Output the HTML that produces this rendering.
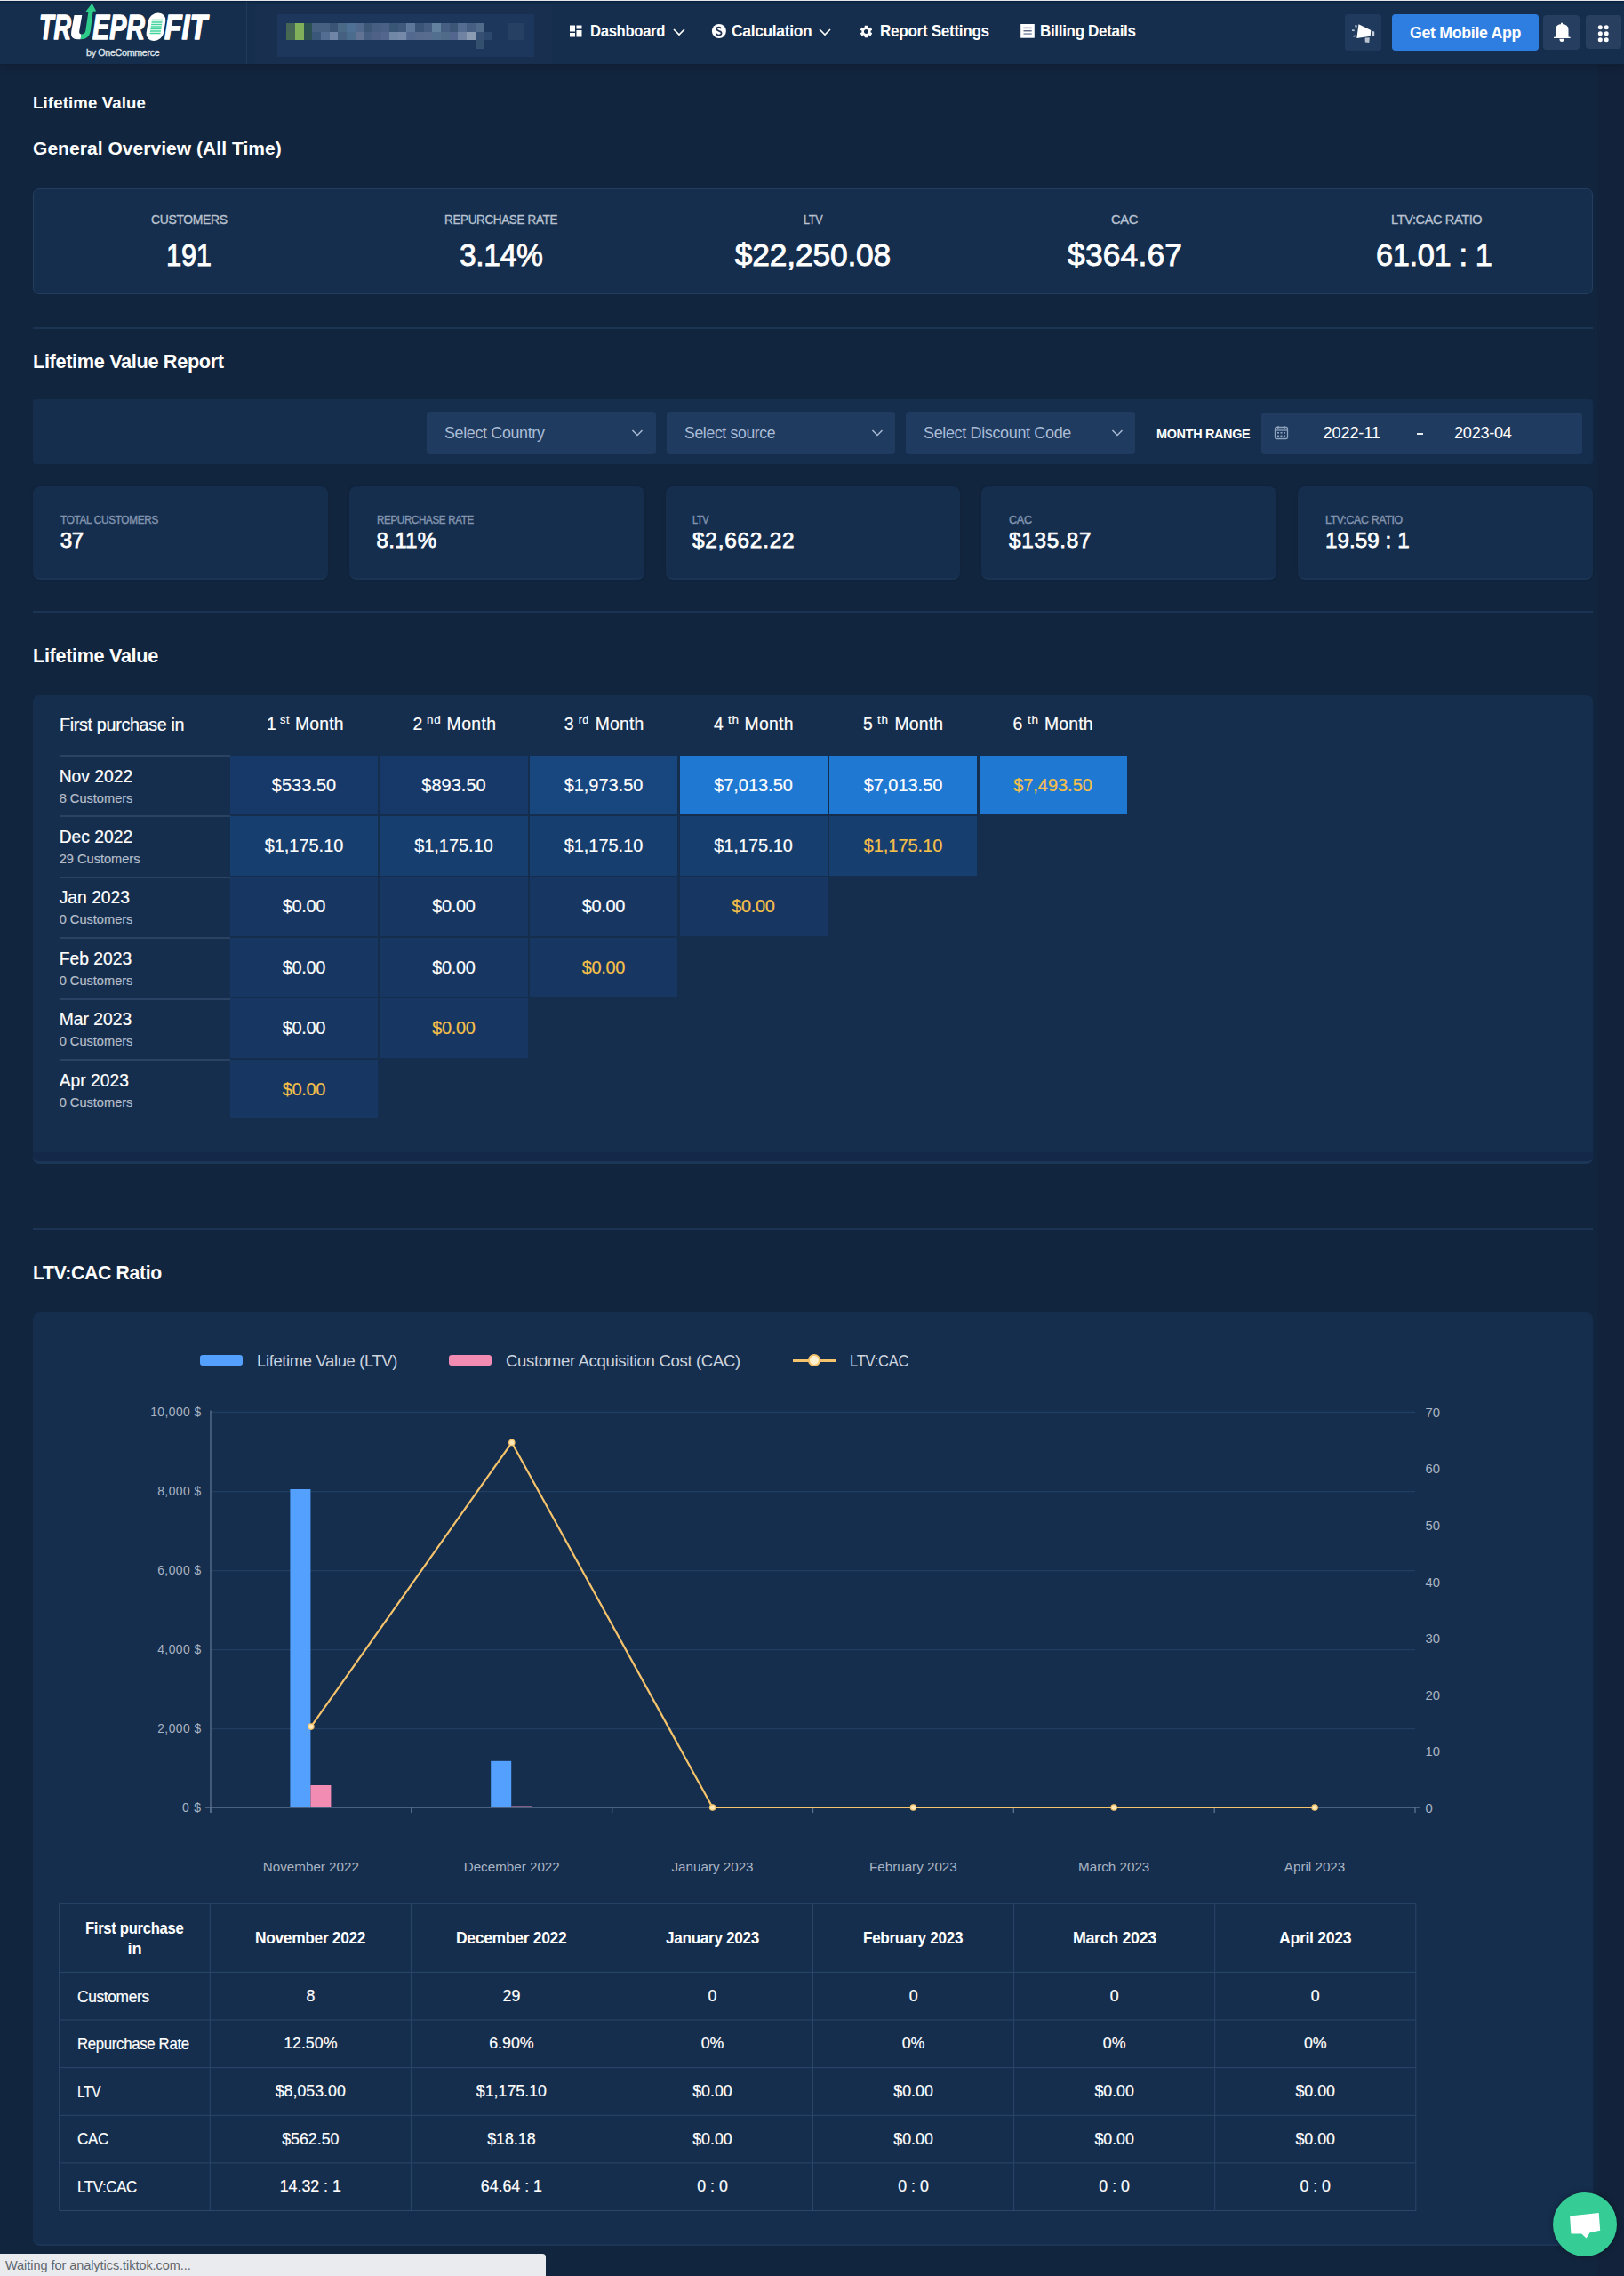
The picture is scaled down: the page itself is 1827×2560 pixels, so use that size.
<!DOCTYPE html>
<html><head><meta charset="utf-8"><style>
html,body{margin:0;padding:0;}
body{width:1827px;height:2560px;position:relative;overflow:hidden;background:#12253e;font-family:"Liberation Sans",sans-serif;color:#fff;}
.t{position:absolute;white-space:nowrap;line-height:1;transform-origin:0 0;}
.b{position:absolute;}
</style></head><body>
<div class="b" style="left:1797px;top:73px;width:30px;height:2487px;background:#12223a;"></div>
<div class="b" style="left:0;top:0;width:1827px;height:73px;background:#152e4d;box-shadow:0 2px 10px rgba(0,0,0,0.18);"></div>
<div class="b" style="left:0;top:0;width:1827px;height:1px;background:#e6e6ea;"></div>
<div class="b" style="left:0;top:1px;width:1827px;height:1px;background:#03203f;"></div>
<div class="b" style="left:0;top:2px;width:1827px;height:2px;background:#112b48;"></div>
<div class="b" style="left:0;top:72px;width:1827px;height:1px;background:#111f35;"></div>
<div class="b" style="left:277px;top:2px;width:1px;height:70px;background:#22395a;"></div>
<svg class="b" style="left:0px;top:0px" width="260" height="72" viewBox="0 0 260 72">
<g font-family="Liberation Sans" font-weight="700" font-style="italic" font-size="39" fill="#fff" stroke="#fff" stroke-width="1.4" stroke-linejoin="round">
<text x="44" y="43.6" textLength="36" lengthAdjust="spacingAndGlyphs">TR</text>
<text x="104" y="43.6" textLength="59" lengthAdjust="spacingAndGlyphs">EPR</text>
<text x="185" y="43.6" textLength="48" lengthAdjust="spacingAndGlyphs">FIT</text>
</g>
<path d="M83.5 17 L92.3 17 L89.2 35 Q88.8 38.4 91.5 38.4 L90.6 44.3 L87.5 44.3 Q78.6 44.3 80.2 35.5 Z" fill="#fff"/><path d="M99.4 13.6 L95.8 13.7 L103.6 3.7 L108.2 12.5 L104.6 12.8 L101.8 35 Q100 44.5 90.6 44.3 L91.5 38.4 Q95.6 38.4 96.3 34.5 Z" fill="#2ecc8a"/>
<rect x="166" y="14.6" width="19.5" height="31.4" rx="9.5" ry="9" transform="skewX(-9) translate(4.5 0)" fill="#fff"/>
<g transform="skewX(-9) translate(4.5 0)" stroke="#3fd59a" stroke-width="1.3">
<line x1="170" y1="22.5" x2="182" y2="22.5"/><line x1="170" y1="25" x2="182" y2="25"/><line x1="170" y1="27.5" x2="182" y2="27.5"/><line x1="170" y1="30" x2="182" y2="30"/><line x1="170" y1="32.5" x2="182" y2="32.5"/><line x1="170" y1="35" x2="182" y2="35"/><line x1="170" y1="37.5" x2="182" y2="37.5"/>
</g>
</svg>
<div class="t" style="left:96.80px;top:54.42px;font-size:11.20px;letter-spacing:-0.350px;transform:scaleX(0.9591);color:#dfe3ea;-webkit-text-stroke:0.35px #dfe3ea;">by OneCommerce</div>
<div class="b" style="left:287px;top:5px;width:334px;height:67px;background:#182f50;"></div>
<div class="b" style="left:312px;top:16px;width:289px;height:48px;background:#1c375b;"></div>
<div class="b" style="left:322.3px;top:26px;width:9.8px;height:9.7px;background:#4a6b55;opacity:.9;"></div>
<div class="b" style="left:331.9px;top:26px;width:9.8px;height:9.7px;background:#8cbf5a;opacity:.9;"></div>
<div class="b" style="left:341.6px;top:26px;width:9.8px;height:9.7px;background:#2e5350;opacity:.9;"></div>
<div class="b" style="left:351.2px;top:26px;width:9.8px;height:9.7px;background:#4a6585;opacity:.9;"></div>
<div class="b" style="left:360.9px;top:26px;width:9.8px;height:9.7px;background:#4a6585;opacity:.9;"></div>
<div class="b" style="left:370.6px;top:26px;width:9.8px;height:9.7px;background:#3d5878;opacity:.9;"></div>
<div class="b" style="left:380.2px;top:26px;width:9.8px;height:9.7px;background:#4f6f8c;opacity:.9;"></div>
<div class="b" style="left:389.9px;top:26px;width:9.8px;height:9.7px;background:#54779a;opacity:.9;"></div>
<div class="b" style="left:399.5px;top:26px;width:9.8px;height:9.7px;background:#566f92;opacity:.9;"></div>
<div class="b" style="left:409.2px;top:26px;width:9.8px;height:9.7px;background:#3f5a7a;opacity:.9;"></div>
<div class="b" style="left:418.8px;top:26px;width:9.8px;height:9.7px;background:#4a6385;opacity:.9;"></div>
<div class="b" style="left:428.5px;top:26px;width:9.8px;height:9.7px;background:#50658a;opacity:.9;"></div>
<div class="b" style="left:438.1px;top:26px;width:9.8px;height:9.7px;background:#3d5a7a;opacity:.9;"></div>
<div class="b" style="left:447.8px;top:26px;width:9.8px;height:9.7px;background:#435d80;opacity:.9;"></div>
<div class="b" style="left:457.4px;top:26px;width:9.8px;height:9.7px;background:#647ea0;opacity:.9;"></div>
<div class="b" style="left:467.1px;top:26px;width:9.8px;height:9.7px;background:#3e587a;opacity:.9;"></div>
<div class="b" style="left:476.7px;top:26px;width:9.8px;height:9.7px;background:#4a6285;opacity:.9;"></div>
<div class="b" style="left:486.4px;top:26px;width:9.8px;height:9.7px;background:#6a8aa5;opacity:.9;"></div>
<div class="b" style="left:496.0px;top:26px;width:9.8px;height:9.7px;background:#4a6385;opacity:.9;"></div>
<div class="b" style="left:505.6px;top:26px;width:9.8px;height:9.7px;background:#3f5a7a;opacity:.9;"></div>
<div class="b" style="left:515.3px;top:26px;width:9.8px;height:9.7px;background:#5a7295;opacity:.9;"></div>
<div class="b" style="left:525.0px;top:26px;width:9.8px;height:9.7px;background:#4a6385;opacity:.9;"></div>
<div class="b" style="left:534.6px;top:26px;width:9.8px;height:9.7px;background:#56708f;opacity:.9;"></div>
<div class="b" style="left:322.3px;top:35.6px;width:9.8px;height:9.6px;background:#4a7050;opacity:.9;"></div>
<div class="b" style="left:331.9px;top:35.6px;width:9.8px;height:9.6px;background:#8cbf5a;opacity:.9;"></div>
<div class="b" style="left:341.6px;top:35.6px;width:9.8px;height:9.6px;background:#2f5350;opacity:.9;"></div>
<div class="b" style="left:351.2px;top:35.6px;width:9.8px;height:9.6px;background:#3e5a7c;opacity:.9;"></div>
<div class="b" style="left:360.9px;top:35.6px;width:9.8px;height:9.6px;background:#5a7398;opacity:.9;"></div>
<div class="b" style="left:370.6px;top:35.6px;width:9.8px;height:9.6px;background:#7a8fb0;opacity:.9;"></div>
<div class="b" style="left:380.2px;top:35.6px;width:9.8px;height:9.6px;background:#4a6585;opacity:.9;"></div>
<div class="b" style="left:389.9px;top:35.6px;width:9.8px;height:9.6px;background:#527294;opacity:.9;"></div>
<div class="b" style="left:399.5px;top:35.6px;width:9.8px;height:9.6px;background:#6a7a9a;opacity:.9;"></div>
<div class="b" style="left:409.2px;top:35.6px;width:9.8px;height:9.6px;background:#4a6385;opacity:.9;"></div>
<div class="b" style="left:418.8px;top:35.6px;width:9.8px;height:9.6px;background:#56668d;opacity:.9;"></div>
<div class="b" style="left:428.5px;top:35.6px;width:9.8px;height:9.6px;background:#5a6d93;opacity:.9;"></div>
<div class="b" style="left:438.1px;top:35.6px;width:9.8px;height:9.6px;background:#7a90ad;opacity:.9;"></div>
<div class="b" style="left:447.8px;top:35.6px;width:9.8px;height:9.6px;background:#7e93b0;opacity:.9;"></div>
<div class="b" style="left:457.4px;top:35.6px;width:9.8px;height:9.6px;background:#5a6f95;opacity:.9;"></div>
<div class="b" style="left:467.1px;top:35.6px;width:9.8px;height:9.6px;background:#5e7195;opacity:.9;"></div>
<div class="b" style="left:476.7px;top:35.6px;width:9.8px;height:9.6px;background:#5f7296;opacity:.9;"></div>
<div class="b" style="left:486.4px;top:35.6px;width:9.8px;height:9.6px;background:#5a7595;opacity:.9;"></div>
<div class="b" style="left:496.0px;top:35.6px;width:9.8px;height:9.6px;background:#56708f;opacity:.9;"></div>
<div class="b" style="left:505.6px;top:35.6px;width:9.8px;height:9.6px;background:#5a6d93;opacity:.9;"></div>
<div class="b" style="left:515.3px;top:35.6px;width:9.8px;height:9.6px;background:#7a8cab;opacity:.9;"></div>
<div class="b" style="left:525.0px;top:35.6px;width:9.8px;height:9.6px;background:#98a6bb;opacity:.9;"></div>
<div class="b" style="left:534.6px;top:35.6px;width:9.8px;height:9.6px;background:#3a5375;opacity:.9;"></div>
<div class="b" style="left:544.2px;top:35.6px;width:9.8px;height:9.6px;background:#2f4a6e;opacity:.9;"></div>
<div class="b" style="left:534.5px;top:45px;width:9.7px;height:9.5px;background:#33506e;"></div>
<div class="b" style="left:572px;top:26px;width:18px;height:19px;background:#254062;"></div>
<div class="t" style="left:663.50px;top:26.44px;font-size:18.02px;letter-spacing:-0.350px;transform:scaleX(0.9252);font-weight:700;">Dashboard</div>
<div class="t" style="left:823.00px;top:26.44px;font-size:18.02px;letter-spacing:-0.350px;transform:scaleX(0.9685);font-weight:700;">Calculation</div>
<div class="t" style="left:989.80px;top:26.44px;font-size:18.02px;letter-spacing:-0.350px;transform:scaleX(0.9529);font-weight:700;">Report Settings</div>
<div class="t" style="left:1170.00px;top:26.44px;font-size:18.02px;letter-spacing:-0.350px;transform:scaleX(0.9451);font-weight:700;">Billing Details</div>
<svg class="b" style="left:640px;top:28px" width="16" height="14" viewBox="0 0 16 14"><rect x="1" y="0.5" width="6" height="7" fill="#fff"/><rect x="8.5" y="0.5" width="6" height="4" fill="#fff"/><rect x="1" y="9" width="6" height="4.5" fill="#fff"/><rect x="8.5" y="6" width="6" height="7.5" fill="#fff"/></svg>
<svg class="b" style="left:757px;top:31px" width="14" height="10" viewBox="0 0 14 10"><path d="M1 2 L7 8 L13 2" stroke="#fff" stroke-width="1.6" fill="none"/></svg>
<svg class="b" style="left:921px;top:31px" width="14" height="10" viewBox="0 0 14 10"><path d="M1 2 L7 8 L13 2" stroke="#fff" stroke-width="1.6" fill="none"/></svg>
<svg class="b" style="left:795px;top:22px" width="30" height="26" viewBox="0 0 30 26"><circle cx="13.9" cy="13" r="8" fill="#fff"/><path d="M16.3 10.2 Q15.6 8.6 13.8 8.6 Q11.3 8.6 11.3 10.6 Q11.3 12.2 13.8 12.8 Q16.6 13.4 16.6 15.3 Q16.6 17.5 13.9 17.5 Q11.8 17.5 11 15.8" stroke="#1f3050" stroke-width="1.7" fill="none"/></svg>
<svg class="b" style="left:966px;top:27px" width="17" height="17" viewBox="0 0 24 24"><path fill="#fff" d="M19.14 12.94c.04-.3.06-.61.06-.94 0-.32-.02-.64-.07-.94l2.03-1.58a.49.49 0 0 0 .12-.61l-1.92-3.32a.488.488 0 0 0-.59-.22l-2.39.96c-.5-.38-1.03-.7-1.62-.94l-.36-2.54a.484.484 0 0 0-.48-.41h-3.84c-.24 0-.43.17-.47.41l-.36 2.54c-.59.24-1.13.57-1.62.94l-2.39-.96c-.22-.08-.47 0-.59.22L2.74 8.87c-.12.21-.08.47.12.61l2.03 1.58c-.05.3-.09.63-.09.94s.02.64.07.94l-2.03 1.58a.49.49 0 0 0-.12.61l1.92 3.32c.12.22.37.29.59.22l2.39-.96c.5.38 1.03.7 1.62.94l.36 2.54c.05.24.24.41.48.41h3.84c.24 0 .44-.17.47-.41l.36-2.54c.59-.24 1.13-.56 1.62-.94l2.39.96c.22.08.47 0 .59-.22l1.92-3.32c.12-.22.07-.47-.12-.61l-2.01-1.58zM12 15.6c-1.98 0-3.6-1.62-3.6-3.6s1.62-3.6 3.6-3.6 3.6 1.62 3.6 3.6-1.62 3.6-3.6 3.6z"/></svg>
<svg class="b" style="left:1148px;top:27px" width="16" height="16" viewBox="0 0 16 16"><rect x="0.2" y="0" width="15.6" height="15.7" fill="#fff"/><rect x="3.5" y="3.8" width="9.2" height="1.3" fill="#1f3050"/><rect x="3.5" y="7.1" width="9.2" height="1.3" fill="#4a5a78"/><rect x="3.5" y="10.4" width="9.2" height="1.3" fill="#6a7898"/></svg>
<div class="b" style="left:1512.5px;top:16px;width:41px;height:40.5px;background:#203a5d;border-radius:3px;"></div>
<svg class="b" style="left:1510px;top:14px" width="50" height="46" viewBox="0 0 50 46"><path d="M18.5 13.2 L32.3 20 L31.7 26.8 L16.3 28.9 Z" fill="#fff"/><path d="M33.6 21 L36.2 21.6 L36.2 26.6 L33.4 27.2 Z" fill="#c8d0dc"/><path d="M25.6 28.6 L30.8 28.3 L30.3 33.9 L25.8 33.4 Z" fill="#b9c3d0"/><path d="M14 14.5 L16.5 14.2 L16.8 16.5 L14.8 16.8 Z M11 19.2 L13.8 19.5 L13.6 21.2 L11 20.8 Z M12.2 26.4 L14.5 25.2 L15 27 L12.6 27.8 Z" fill="#b8c4d4"/></svg>
<div class="b" style="left:1566px;top:16px;width:165px;height:41px;background:#2e7de1;border-radius:4px;"></div>
<div class="t" style="left:1586.00px;top:27.52px;font-size:18.75px;letter-spacing:-0.350px;transform:scaleX(0.9482);font-weight:700;">Get Mobile App</div>
<div class="b" style="left:1736px;top:17px;width:41px;height:38.5px;background:#263f60;border-radius:4px;"></div>
<svg class="b" style="left:1730px;top:14px" width="50" height="46" viewBox="0 0 50 46"><path d="M20 27.5 L20 19.5 Q20 13 27 13 Q34.5 13 34.5 19.5 L34.5 27.5 L36.6 27.8 L36.6 29 L18 29 L18 27.8 Z" fill="#fff"/><rect x="26" y="11.6" width="2" height="2.5" rx="1" fill="#fff"/><path d="M24.4 29.8 Q24.6 33 27 33 Q29.6 33 29.8 29.8 Z" fill="#fff"/></svg>
<div class="b" style="left:1784px;top:16.6px;width:40px;height:38.5px;background:#283f60;border-radius:4px;"></div>
<svg class="b" style="left:1793px;top:26px" width="22" height="22" viewBox="0 0 22 22"><g fill="#fff"><circle cx="7.3" cy="4.8" r="2.5"/><circle cx="14.2" cy="4.8" r="2.5"/><circle cx="7.3" cy="11.7" r="2.5"/><circle cx="14.2" cy="11.7" r="2.5"/><circle cx="7.3" cy="18.7" r="2.5"/><circle cx="14.2" cy="18.7" r="2.5"/></g></svg>
<div class="t" style="left:37.00px;top:106.95px;font-size:18.60px;letter-spacing:0.145px;font-weight:700;">Lifetime Value</div>
<div class="t" style="left:37.00px;top:156.22px;font-size:21.00px;letter-spacing:0.044px;font-weight:700;">General Overview (All Time)</div>
<div class="b" style="left:37px;top:212px;width:1755px;height:119px;background:#152e4e;border:1px solid #243e60;border-radius:7px;box-sizing:border-box;"></div>
<div class="t" style="left:169.50px;top:240.45px;font-size:14.83px;letter-spacing:-0.350px;transform:scaleX(0.9383);color:#b9c2cf;-webkit-text-stroke:0.35px #b9c2cf;">CUSTOMERS</div>
<div class="t" style="left:187.00px;top:269.29px;font-size:35.32px;letter-spacing:-0.350px;transform:scaleX(0.8761);-webkit-text-stroke:0.9px #fff;">191</div>
<div class="t" style="left:499.80px;top:240.45px;font-size:14.83px;letter-spacing:-0.350px;transform:scaleX(0.9059);color:#b9c2cf;-webkit-text-stroke:0.35px #b9c2cf;">REPURCHASE RATE</div>
<div class="t" style="left:516.60px;top:269.29px;font-size:35.32px;letter-spacing:-0.350px;transform:scaleX(0.9501);-webkit-text-stroke:0.9px #fff;">3.14%</div>
<div class="t" style="left:903.65px;top:240.45px;font-size:14.83px;letter-spacing:-0.350px;transform:scaleX(0.8546);color:#b9c2cf;-webkit-text-stroke:0.35px #b9c2cf;">LTV</div>
<div class="t" style="left:826.70px;top:269.29px;font-size:35.32px;letter-spacing:-0.131px;-webkit-text-stroke:0.9px #fff;">$22,250.08</div>
<div class="t" style="left:1250.35px;top:240.45px;font-size:14.83px;letter-spacing:-0.350px;transform:scaleX(0.9903);color:#b9c2cf;-webkit-text-stroke:0.35px #b9c2cf;">CAC</div>
<div class="t" style="left:1201.10px;top:269.29px;font-size:35.32px;letter-spacing:0.187px;-webkit-text-stroke:0.9px #fff;">$364.67</div>
<div class="t" style="left:1565.20px;top:240.45px;font-size:14.83px;letter-spacing:-0.350px;transform:scaleX(0.9764);color:#b9c2cf;-webkit-text-stroke:0.35px #b9c2cf;">LTV:CAC RATIO</div>
<div class="t" style="left:1548.00px;top:269.29px;font-size:35.32px;letter-spacing:-0.350px;transform:scaleX(0.9728);-webkit-text-stroke:0.9px #fff;">61.01 : 1</div>
<div class="b" style="left:37px;top:368px;width:1755px;height:2px;background:#1b3454;"></div>
<div class="t" style="left:37.00px;top:395.79px;font-size:22.09px;letter-spacing:-0.350px;transform:scaleX(0.9831);font-weight:700;">Lifetime Value Report</div>
<div class="b" style="left:37px;top:449px;width:1755px;height:73px;background:#152e4e;border-radius:4px;"></div>
<div class="b" style="left:480px;top:463px;width:257.6px;height:48px;background:#1f3b60;border-radius:4px;"></div>
<div class="t" style="left:499.80px;top:477.92px;font-size:18.17px;letter-spacing:-0.350px;transform:scaleX(0.9859);color:#a9bcd6;">Select Country</div>
<svg class="b" style="left:710.1px;top:482px" width="14" height="10" viewBox="0 0 14 10"><path d="M1.5 2 L7 7.5 L12.5 2" stroke="#a9bcd6" stroke-width="1.5" fill="none"/></svg>
<div class="b" style="left:750px;top:463px;width:257.0px;height:48px;background:#1f3b60;border-radius:4px;"></div>
<div class="t" style="left:769.80px;top:477.92px;font-size:18.17px;letter-spacing:-0.350px;transform:scaleX(0.9699);color:#a9bcd6;">Select source</div>
<svg class="b" style="left:979.5px;top:482px" width="14" height="10" viewBox="0 0 14 10"><path d="M1.5 2 L7 7.5 L12.5 2" stroke="#a9bcd6" stroke-width="1.5" fill="none"/></svg>
<div class="b" style="left:1019px;top:463px;width:258.0px;height:48px;background:#1f3b60;border-radius:4px;"></div>
<div class="t" style="left:1038.80px;top:477.92px;font-size:18.17px;letter-spacing:-0.350px;transform:scaleX(0.9901);color:#a9bcd6;">Select Discount Code</div>
<svg class="b" style="left:1249.5px;top:482px" width="14" height="10" viewBox="0 0 14 10"><path d="M1.5 2 L7 7.5 L12.5 2" stroke="#a9bcd6" stroke-width="1.5" fill="none"/></svg>
<div class="t" style="left:1301.00px;top:481.44px;font-size:14.60px;letter-spacing:-0.350px;transform:scaleX(0.9906);font-weight:700;">MONTH RANGE</div>
<div class="b" style="left:1419px;top:463.5px;width:361px;height:47px;background:#1f3b60;border-radius:4px;"></div>
<svg class="b" style="left:1433px;top:478px" width="17" height="17" viewBox="0 0 17 17"><rect x="1.5" y="2.5" width="14" height="13" rx="1.5" stroke="#8ea2bd" stroke-width="1.3" fill="none"/><path d="M1.5 6 H15.5" stroke="#8ea2bd" stroke-width="1.3"/><path d="M5 1 V4 M12 1 V4" stroke="#8ea2bd" stroke-width="1.3"/><g fill="#8ea2bd"><rect x="4" y="8" width="2" height="1.6"/><rect x="7.5" y="8" width="2" height="1.6"/><rect x="11" y="8" width="2" height="1.6"/><rect x="4" y="11.5" width="2" height="1.6"/><rect x="7.5" y="11.5" width="2" height="1.6"/><rect x="11" y="11.5" width="2" height="1.6"/></g></svg>
<div class="t" style="left:1488.50px;top:478.42px;font-size:18.17px;letter-spacing:-0.139px;">2022-11</div>
<div class="b" style="left:1594px;top:486.5px;width:7px;height:2px;background:#e6e9ee;"></div>
<div class="t" style="left:1636.00px;top:478.42px;font-size:18.17px;letter-spacing:-0.280px;">2023-04</div>
<div class="b" style="left:37.0px;top:546.5px;width:331.8px;height:105.3px;background:#152e4e;border-radius:8px;box-shadow:0 0 3px rgba(0,0,0,0.15);border-bottom:2px solid #1a3454;box-sizing:border-box;"></div>
<div class="t" style="left:67.70px;top:578.00px;font-size:13.23px;letter-spacing:-0.350px;transform:scaleX(0.8898);color:#8193ad;-webkit-text-stroke:0.45px #8193ad;">TOTAL CUSTOMERS</div>
<div class="t" style="left:67.70px;top:595.87px;font-size:24.13px;letter-spacing:-0.230px;-webkit-text-stroke:0.75px #fff;">37</div>
<div class="b" style="left:392.8px;top:546.5px;width:331.8px;height:105.3px;background:#152e4e;border-radius:8px;box-shadow:0 0 3px rgba(0,0,0,0.15);border-bottom:2px solid #1a3454;box-sizing:border-box;"></div>
<div class="t" style="left:423.50px;top:578.00px;font-size:13.23px;letter-spacing:-0.350px;transform:scaleX(0.8749);color:#8193ad;-webkit-text-stroke:0.45px #8193ad;">REPURCHASE RATE</div>
<div class="t" style="left:423.50px;top:595.87px;font-size:24.13px;letter-spacing:0.271px;-webkit-text-stroke:0.75px #fff;">8.11%</div>
<div class="b" style="left:748.6px;top:546.5px;width:331.8px;height:105.3px;background:#152e4e;border-radius:8px;box-shadow:0 0 3px rgba(0,0,0,0.15);border-bottom:2px solid #1a3454;box-sizing:border-box;"></div>
<div class="t" style="left:779.30px;top:578.00px;font-size:13.23px;letter-spacing:-0.350px;transform:scaleX(0.8193);color:#8193ad;-webkit-text-stroke:0.45px #8193ad;">LTV</div>
<div class="t" style="left:779.30px;top:595.87px;font-size:24.13px;letter-spacing:0.800px;transform:scaleX(1.0075);-webkit-text-stroke:0.75px #fff;">$2,662.22</div>
<div class="b" style="left:1104.4px;top:546.5px;width:331.8px;height:105.3px;background:#152e4e;border-radius:8px;box-shadow:0 0 3px rgba(0,0,0,0.15);border-bottom:2px solid #1a3454;box-sizing:border-box;"></div>
<div class="t" style="left:1135.10px;top:578.00px;font-size:13.23px;letter-spacing:-0.350px;transform:scaleX(0.9625);color:#8193ad;-webkit-text-stroke:0.45px #8193ad;">CAC</div>
<div class="t" style="left:1135.10px;top:595.87px;font-size:24.13px;letter-spacing:0.800px;transform:scaleX(1.0052);-webkit-text-stroke:0.75px #fff;">$135.87</div>
<div class="b" style="left:1460.2px;top:546.5px;width:331.8px;height:105.3px;background:#152e4e;border-radius:8px;box-shadow:0 0 3px rgba(0,0,0,0.15);border-bottom:2px solid #1a3454;box-sizing:border-box;"></div>
<div class="t" style="left:1490.90px;top:578.00px;font-size:13.23px;letter-spacing:-0.350px;transform:scaleX(0.9357);color:#8193ad;-webkit-text-stroke:0.45px #8193ad;">LTV:CAC RATIO</div>
<div class="t" style="left:1490.90px;top:595.87px;font-size:24.13px;letter-spacing:0.099px;-webkit-text-stroke:0.75px #fff;">19.59 : 1</div>
<div class="b" style="left:37px;top:687px;width:1755px;height:2px;background:#1b3454;"></div>
<div class="t" style="left:37.00px;top:726.72px;font-size:22.53px;letter-spacing:-0.350px;transform:scaleX(0.9615);font-weight:700;">Lifetime Value</div>
<div class="b" style="left:37px;top:781.6px;width:1755px;height:527px;background:#14284a;border-radius:7px;border-bottom:3px solid #1c3657;box-sizing:border-box;"></div>
<div class="b" style="left:37px;top:781.6px;width:1755px;height:514.5px;background:#152e4e;border-radius:7px 7px 0 0;"></div>
<div class="t" style="left:66.70px;top:804.72px;font-size:20.64px;letter-spacing:-0.350px;transform:scaleX(0.9574);-webkit-text-stroke:0.2px #fff;">First purchase in</div>
<div class="t" style="left:300.00px;top:805.33px;font-size:19.33px;-webkit-text-stroke:0.2px #fff;">1</div>
<div class="t" style="left:314.70px;top:804.39px;font-size:12.30px;letter-spacing:0.800px;transform:scaleX(1.0222);-webkit-text-stroke:0.15px #fff;">st</div>
<div class="t" style="left:331.90px;top:805.33px;font-size:19.33px;letter-spacing:0.245px;-webkit-text-stroke:0.2px #fff;">Month</div>
<div class="t" style="left:464.50px;top:805.33px;font-size:19.33px;-webkit-text-stroke:0.2px #fff;">2</div>
<div class="t" style="left:480.20px;top:804.39px;font-size:12.30px;letter-spacing:0.800px;transform:scaleX(1.0913);-webkit-text-stroke:0.15px #fff;">nd</div>
<div class="t" style="left:502.60px;top:805.33px;font-size:19.33px;letter-spacing:0.445px;-webkit-text-stroke:0.2px #fff;">Month</div>
<div class="t" style="left:634.70px;top:805.33px;font-size:19.33px;-webkit-text-stroke:0.2px #fff;">3</div>
<div class="t" style="left:650.70px;top:804.39px;font-size:12.30px;letter-spacing:0.565px;-webkit-text-stroke:0.15px #fff;">rd</div>
<div class="t" style="left:669.70px;top:805.33px;font-size:19.33px;letter-spacing:0.220px;-webkit-text-stroke:0.2px #fff;">Month</div>
<div class="t" style="left:803.10px;top:805.33px;font-size:19.33px;-webkit-text-stroke:0.2px #fff;">4</div>
<div class="t" style="left:819.10px;top:804.39px;font-size:12.30px;letter-spacing:0.800px;transform:scaleX(1.0942);-webkit-text-stroke:0.15px #fff;">th</div>
<div class="t" style="left:837.60px;top:805.33px;font-size:19.33px;letter-spacing:0.270px;-webkit-text-stroke:0.2px #fff;">Month</div>
<div class="t" style="left:971.10px;top:805.33px;font-size:19.33px;-webkit-text-stroke:0.2px #fff;">5</div>
<div class="t" style="left:987.10px;top:804.39px;font-size:12.30px;letter-spacing:0.800px;transform:scaleX(1.0942);-webkit-text-stroke:0.15px #fff;">th</div>
<div class="t" style="left:1006.40px;top:805.33px;font-size:19.33px;letter-spacing:0.220px;-webkit-text-stroke:0.2px #fff;">Month</div>
<div class="t" style="left:1139.60px;top:805.33px;font-size:19.33px;-webkit-text-stroke:0.2px #fff;">6</div>
<div class="t" style="left:1155.60px;top:804.39px;font-size:12.30px;letter-spacing:0.800px;transform:scaleX(1.0942);-webkit-text-stroke:0.15px #fff;">th</div>
<div class="t" style="left:1174.90px;top:805.33px;font-size:19.33px;letter-spacing:0.220px;-webkit-text-stroke:0.2px #fff;">Month</div>
<div class="b" style="left:66.7px;top:849.0px;width:192.3px;height:2px;background:#2a4364;"></div>
<div class="t" style="left:66.70px;top:863.56px;font-size:19.30px;-webkit-text-stroke:0.2px #fff;">Nov 2022</div>
<div class="t" style="left:66.70px;top:890.54px;font-size:14.60px;color:#b3bdc9;-webkit-text-stroke:0.2px #b3bdc9;">8 Customers</div>
<div class="b" style="left:259.0px;top:849.6px;width:166px;height:66.6px;background:#17396a;"></div>
<div class="t" style="left:305.85px;top:873.54px;font-size:19.91px;letter-spacing:0.053px;-webkit-text-stroke:0.2px #fff;">$533.50</div>
<div class="b" style="left:427.5px;top:849.6px;width:166px;height:66.6px;background:#17396a;"></div>
<div class="t" style="left:474.35px;top:873.54px;font-size:19.91px;letter-spacing:0.053px;-webkit-text-stroke:0.2px #fff;">$893.50</div>
<div class="b" style="left:596.0px;top:849.6px;width:166px;height:66.6px;background:#18467f;"></div>
<div class="t" style="left:634.65px;top:873.54px;font-size:19.91px;letter-spacing:0.013px;-webkit-text-stroke:0.2px #fff;">$1,973.50</div>
<div class="b" style="left:764.5px;top:849.6px;width:166px;height:66.6px;background:#1f79d3;"></div>
<div class="t" style="left:803.15px;top:873.54px;font-size:19.91px;letter-spacing:0.013px;-webkit-text-stroke:0.2px #fff;">$7,013.50</div>
<div class="b" style="left:933.0px;top:849.6px;width:166px;height:66.6px;background:#1f79d3;"></div>
<div class="t" style="left:971.65px;top:873.54px;font-size:19.91px;letter-spacing:0.013px;-webkit-text-stroke:0.2px #fff;">$7,013.50</div>
<div class="b" style="left:1101.5px;top:849.6px;width:166px;height:66.6px;background:#1f79d3;"></div>
<div class="t" style="left:1140.15px;top:873.54px;font-size:19.91px;letter-spacing:0.013px;color:#f5c04a;-webkit-text-stroke:0.2px #f5c04a;">$7,493.50</div>
<div class="b" style="left:66.7px;top:917.4px;width:192.3px;height:2px;background:#2a4364;"></div>
<div class="t" style="left:66.70px;top:931.96px;font-size:19.30px;-webkit-text-stroke:0.2px #fff;">Dec 2022</div>
<div class="t" style="left:66.70px;top:958.94px;font-size:14.60px;color:#b3bdc9;-webkit-text-stroke:0.2px #b3bdc9;">29 Customers</div>
<div class="b" style="left:259.0px;top:918.0px;width:166px;height:66.6px;background:#163e6e;"></div>
<div class="t" style="left:297.65px;top:941.94px;font-size:19.91px;letter-spacing:0.013px;-webkit-text-stroke:0.2px #fff;">$1,175.10</div>
<div class="b" style="left:427.5px;top:918.0px;width:166px;height:66.6px;background:#163e6e;"></div>
<div class="t" style="left:466.15px;top:941.94px;font-size:19.91px;letter-spacing:0.013px;-webkit-text-stroke:0.2px #fff;">$1,175.10</div>
<div class="b" style="left:596.0px;top:918.0px;width:166px;height:66.6px;background:#163e6e;"></div>
<div class="t" style="left:634.65px;top:941.94px;font-size:19.91px;letter-spacing:0.013px;-webkit-text-stroke:0.2px #fff;">$1,175.10</div>
<div class="b" style="left:764.5px;top:918.0px;width:166px;height:66.6px;background:#163e6e;"></div>
<div class="t" style="left:803.15px;top:941.94px;font-size:19.91px;letter-spacing:0.013px;-webkit-text-stroke:0.2px #fff;">$1,175.10</div>
<div class="b" style="left:933.0px;top:918.0px;width:166px;height:66.6px;background:#163e6e;"></div>
<div class="t" style="left:971.65px;top:941.94px;font-size:19.91px;letter-spacing:0.013px;color:#f5c04a;-webkit-text-stroke:0.2px #f5c04a;">$1,175.10</div>
<div class="b" style="left:66.7px;top:985.8px;width:192.3px;height:2px;background:#2a4364;"></div>
<div class="t" style="left:66.70px;top:1000.36px;font-size:19.30px;-webkit-text-stroke:0.2px #fff;">Jan 2023</div>
<div class="t" style="left:66.70px;top:1027.34px;font-size:14.60px;color:#b3bdc9;-webkit-text-stroke:0.2px #b3bdc9;">0 Customers</div>
<div class="b" style="left:259.0px;top:986.4px;width:166px;height:66.6px;background:#173762;"></div>
<div class="t" style="left:317.85px;top:1010.34px;font-size:19.91px;letter-spacing:-0.350px;-webkit-text-stroke:0.2px #fff;">$0.00</div>
<div class="b" style="left:427.5px;top:986.4px;width:166px;height:66.6px;background:#173762;"></div>
<div class="t" style="left:486.35px;top:1010.34px;font-size:19.91px;letter-spacing:-0.350px;-webkit-text-stroke:0.2px #fff;">$0.00</div>
<div class="b" style="left:596.0px;top:986.4px;width:166px;height:66.6px;background:#173762;"></div>
<div class="t" style="left:654.85px;top:1010.34px;font-size:19.91px;letter-spacing:-0.350px;-webkit-text-stroke:0.2px #fff;">$0.00</div>
<div class="b" style="left:764.5px;top:986.4px;width:166px;height:66.6px;background:#173762;"></div>
<div class="t" style="left:823.35px;top:1010.34px;font-size:19.91px;letter-spacing:-0.350px;color:#f5c04a;-webkit-text-stroke:0.2px #f5c04a;">$0.00</div>
<div class="b" style="left:66.7px;top:1054.2px;width:192.3px;height:2px;background:#2a4364;"></div>
<div class="t" style="left:66.70px;top:1068.76px;font-size:19.30px;-webkit-text-stroke:0.2px #fff;">Feb 2023</div>
<div class="t" style="left:66.70px;top:1095.74px;font-size:14.60px;color:#b3bdc9;-webkit-text-stroke:0.2px #b3bdc9;">0 Customers</div>
<div class="b" style="left:259.0px;top:1054.8px;width:166px;height:66.6px;background:#173762;"></div>
<div class="t" style="left:317.85px;top:1078.74px;font-size:19.91px;letter-spacing:-0.350px;-webkit-text-stroke:0.2px #fff;">$0.00</div>
<div class="b" style="left:427.5px;top:1054.8px;width:166px;height:66.6px;background:#173762;"></div>
<div class="t" style="left:486.35px;top:1078.74px;font-size:19.91px;letter-spacing:-0.350px;-webkit-text-stroke:0.2px #fff;">$0.00</div>
<div class="b" style="left:596.0px;top:1054.8px;width:166px;height:66.6px;background:#173762;"></div>
<div class="t" style="left:654.85px;top:1078.74px;font-size:19.91px;letter-spacing:-0.350px;color:#f5c04a;-webkit-text-stroke:0.2px #f5c04a;">$0.00</div>
<div class="b" style="left:66.7px;top:1122.6px;width:192.3px;height:2px;background:#2a4364;"></div>
<div class="t" style="left:66.70px;top:1137.16px;font-size:19.30px;-webkit-text-stroke:0.2px #fff;">Mar 2023</div>
<div class="t" style="left:66.70px;top:1164.14px;font-size:14.60px;color:#b3bdc9;-webkit-text-stroke:0.2px #b3bdc9;">0 Customers</div>
<div class="b" style="left:259.0px;top:1123.2px;width:166px;height:66.6px;background:#173762;"></div>
<div class="t" style="left:317.85px;top:1147.14px;font-size:19.91px;letter-spacing:-0.350px;-webkit-text-stroke:0.2px #fff;">$0.00</div>
<div class="b" style="left:427.5px;top:1123.2px;width:166px;height:66.6px;background:#173762;"></div>
<div class="t" style="left:486.35px;top:1147.14px;font-size:19.91px;letter-spacing:-0.350px;color:#f5c04a;-webkit-text-stroke:0.2px #f5c04a;">$0.00</div>
<div class="b" style="left:66.7px;top:1191.0px;width:192.3px;height:2px;background:#2a4364;"></div>
<div class="t" style="left:66.70px;top:1205.56px;font-size:19.30px;-webkit-text-stroke:0.2px #fff;">Apr 2023</div>
<div class="t" style="left:66.70px;top:1232.54px;font-size:14.60px;color:#b3bdc9;-webkit-text-stroke:0.2px #b3bdc9;">0 Customers</div>
<div class="b" style="left:259.0px;top:1191.6px;width:166px;height:66.6px;background:#173762;"></div>
<div class="t" style="left:317.85px;top:1215.54px;font-size:19.91px;letter-spacing:-0.350px;color:#f5c04a;-webkit-text-stroke:0.2px #f5c04a;">$0.00</div>
<div class="b" style="left:37px;top:1381px;width:1755px;height:2px;background:#1b3454;"></div>
<div class="t" style="left:37.30px;top:1420.95px;font-size:22.38px;letter-spacing:-0.350px;transform:scaleX(0.9477);font-weight:700;">LTV:CAC Ratio</div>
<div class="b" style="left:37px;top:1476.4px;width:1755px;height:1049.5px;background:#152e4e;border-radius:8px;border-bottom:2px solid #1b3556;box-sizing:border-box;"></div>
<div class="b" style="left:225.3px;top:1524px;width:47.6px;height:12px;background:#54a0ff;border-radius:3px;"></div>
<div class="t" style="left:289.20px;top:1520.96px;font-size:19.19px;letter-spacing:-0.350px;transform:scaleX(0.9578);color:#cdd4de;">Lifetime Value (LTV)</div>
<div class="b" style="left:505.4px;top:1524px;width:48px;height:12px;background:#f28cb2;border-radius:3px;"></div>
<div class="t" style="left:569.20px;top:1520.96px;font-size:19.19px;letter-spacing:-0.350px;transform:scaleX(0.9674);color:#cdd4de;">Customer Acquisition Cost (CAC)</div>
<div class="b" style="left:892px;top:1529px;width:47.7px;height:2.5px;background:#f5c36b;"></div>
<div class="b" style="left:909px;top:1523px;width:14px;height:14px;background:#fff1cf;border:2px solid #f5c36b;border-radius:50%;box-sizing:border-box;"></div>
<div class="t" style="left:956.00px;top:1520.96px;font-size:19.19px;letter-spacing:-0.350px;transform:scaleX(0.8660);color:#cdd4de;">LTV:CAC</div>
<svg class="b" style="left:0;top:0" width="1827" height="2560" viewBox="0 0 1827 2560"><line x1="237" y1="1588.5" x2="1592" y2="1588.5" stroke="#213d60" stroke-width="1.3"/><line x1="237" y1="1677.6" x2="1592" y2="1677.6" stroke="#213d60" stroke-width="1.3"/><line x1="237" y1="1766.6" x2="1592" y2="1766.6" stroke="#213d60" stroke-width="1.3"/><line x1="237" y1="1855.7" x2="1592" y2="1855.7" stroke="#213d60" stroke-width="1.3"/><line x1="237" y1="1944.7" x2="1592" y2="1944.7" stroke="#213d60" stroke-width="1.3"/><line x1="237" y1="1586.5" x2="237" y2="2039.0" stroke="#5d7290" stroke-width="1.3"/><line x1="231" y1="2033.0" x2="1598" y2="2033.0" stroke="#5d7290" stroke-width="1.3"/><line x1="237.0" y1="2033.0" x2="237.0" y2="2039.0" stroke="#5d7290" stroke-width="1.3"/><line x1="462.8" y1="2033.0" x2="462.8" y2="2039.0" stroke="#5d7290" stroke-width="1.3"/><line x1="688.7" y1="2033.0" x2="688.7" y2="2039.0" stroke="#5d7290" stroke-width="1.3"/><line x1="914.5" y1="2033.0" x2="914.5" y2="2039.0" stroke="#5d7290" stroke-width="1.3"/><line x1="1140.3" y1="2033.0" x2="1140.3" y2="2039.0" stroke="#5d7290" stroke-width="1.3"/><line x1="1366.2" y1="2033.0" x2="1366.2" y2="2039.0" stroke="#5d7290" stroke-width="1.3"/><line x1="1592.0" y1="2033.0" x2="1592.0" y2="2039.0" stroke="#5d7290" stroke-width="1.3"/><line x1="1592" y1="2033.0" x2="1592" y2="2032.0" stroke="#5d7290" stroke-width="1.3"/><rect x="326.4" y="1675.0" width="23" height="358.0" fill="#54a0ff"/><rect x="349.4" y="2008.0" width="23" height="25.0" fill="#f28cb2"/><rect x="552.2" y="1980.8" width="23" height="52.2" fill="#54a0ff"/><rect x="575.2" y="2031.5" width="23" height="1.5" fill="#f28cb2"/><polyline points="349.9,1942.1 575.8,1622.5 801.6,2033.0 1027.4,2033.0 1253.2,2033.0 1479.1,2033.0" fill="none" stroke="#f5c36b" stroke-width="2.2"/><circle cx="349.9" cy="1942.1" r="3.2" fill="#ffe9b8" stroke="#f5c36b" stroke-width="1.2"/><circle cx="575.8" cy="1622.5" r="3.2" fill="#ffe9b8" stroke="#f5c36b" stroke-width="1.2"/><circle cx="801.6" cy="2033.0" r="3.2" fill="#ffe9b8" stroke="#f5c36b" stroke-width="1.2"/><circle cx="1027.4" cy="2033.0" r="3.2" fill="#ffe9b8" stroke="#f5c36b" stroke-width="1.2"/><circle cx="1253.2" cy="2033.0" r="3.2" fill="#ffe9b8" stroke="#f5c36b" stroke-width="1.2"/><circle cx="1479.1" cy="2033.0" r="3.2" fill="#ffe9b8" stroke="#f5c36b" stroke-width="1.2"/></svg>
<div class="t" style="left:169.20px;top:1582.06px;font-size:13.81px;letter-spacing:0.464px;color:#a9b3c1;">10,000 $</div>
<div class="t" style="left:177.20px;top:1671.12px;font-size:13.81px;letter-spacing:0.489px;color:#a9b3c1;">8,000 $</div>
<div class="t" style="left:177.20px;top:1760.18px;font-size:13.81px;letter-spacing:0.489px;color:#a9b3c1;">6,000 $</div>
<div class="t" style="left:177.20px;top:1849.24px;font-size:13.81px;letter-spacing:0.489px;color:#a9b3c1;">4,000 $</div>
<div class="t" style="left:177.20px;top:1938.30px;font-size:13.81px;letter-spacing:0.489px;color:#a9b3c1;">2,000 $</div>
<div class="t" style="left:205.20px;top:2027.36px;font-size:13.81px;letter-spacing:0.800px;transform:scaleX(1.0099);color:#a9b3c1;">0 $</div>
<div class="t" style="left:1603.50px;top:1581.67px;font-size:14.80px;color:#a9b3c1;">70</div>
<div class="t" style="left:1603.50px;top:1645.28px;font-size:14.80px;color:#a9b3c1;">60</div>
<div class="t" style="left:1603.50px;top:1708.89px;font-size:14.80px;color:#a9b3c1;">50</div>
<div class="t" style="left:1603.50px;top:1772.50px;font-size:14.80px;color:#a9b3c1;">40</div>
<div class="t" style="left:1603.50px;top:1836.11px;font-size:14.80px;color:#a9b3c1;">30</div>
<div class="t" style="left:1603.50px;top:1899.72px;font-size:14.80px;color:#a9b3c1;">20</div>
<div class="t" style="left:1603.50px;top:1963.33px;font-size:14.80px;color:#a9b3c1;">10</div>
<div class="t" style="left:1603.50px;top:2026.94px;font-size:14.80px;color:#a9b3c1;">0</div>
<div class="t" style="left:295.84px;top:2091.63px;font-size:15.20px;color:#a9b3c1;">November 2022</div>
<div class="t" style="left:521.68px;top:2091.63px;font-size:15.20px;color:#a9b3c1;">December 2022</div>
<div class="t" style="left:755.53px;top:2091.63px;font-size:15.20px;color:#a9b3c1;">January 2023</div>
<div class="t" style="left:977.99px;top:2091.63px;font-size:15.20px;color:#a9b3c1;">February 2023</div>
<div class="t" style="left:1213.11px;top:2091.63px;font-size:15.20px;color:#a9b3c1;">March 2023</div>
<div class="t" style="left:1444.86px;top:2091.63px;font-size:15.20px;color:#a9b3c1;">April 2023</div>
<svg class="b" style="left:0;top:0" width="1827" height="2560" viewBox="0 0 1827 2560"><line x1="66.6" y1="2141.3" x2="66.6" y2="2486.5" stroke="#2a4669" stroke-width="1"/><line x1="236.3" y1="2141.3" x2="236.3" y2="2486.5" stroke="#2a4669" stroke-width="1"/><line x1="462.4" y1="2141.3" x2="462.4" y2="2486.5" stroke="#2a4669" stroke-width="1"/><line x1="688.5" y1="2141.3" x2="688.5" y2="2486.5" stroke="#2a4669" stroke-width="1"/><line x1="914.5" y1="2141.3" x2="914.5" y2="2486.5" stroke="#2a4669" stroke-width="1"/><line x1="1140.6" y1="2141.3" x2="1140.6" y2="2486.5" stroke="#2a4669" stroke-width="1"/><line x1="1366.7" y1="2141.3" x2="1366.7" y2="2486.5" stroke="#2a4669" stroke-width="1"/><line x1="1592.8" y1="2141.3" x2="1592.8" y2="2486.5" stroke="#2a4669" stroke-width="1"/><line x1="66.6" y1="2141.3" x2="1592.8" y2="2141.3" stroke="#2a4669" stroke-width="1"/><line x1="66.6" y1="2218.4" x2="1592.8" y2="2218.4" stroke="#2a4669" stroke-width="1"/><line x1="66.6" y1="2272.0" x2="1592.8" y2="2272.0" stroke="#2a4669" stroke-width="1"/><line x1="66.6" y1="2325.6" x2="1592.8" y2="2325.6" stroke="#2a4669" stroke-width="1"/><line x1="66.6" y1="2379.3" x2="1592.8" y2="2379.3" stroke="#2a4669" stroke-width="1"/><line x1="66.6" y1="2432.9" x2="1592.8" y2="2432.9" stroke="#2a4669" stroke-width="1"/><line x1="66.6" y1="2486.5" x2="1592.8" y2="2486.5" stroke="#2a4669" stroke-width="1"/></svg>
<div class="t" style="left:96.05px;top:2159.69px;font-size:18.20px;letter-spacing:-0.350px;transform:scaleX(0.9175);font-weight:700;">First purchase</div>
<div class="t" style="left:143.41px;top:2183.09px;font-size:18.20px;font-weight:700;">in</div>
<div class="t" style="left:287.04px;top:2170.75px;font-size:18.60px;letter-spacing:-0.350px;transform:scaleX(0.9344);font-weight:700;">November 2022</div>
<div class="t" style="left:513.02px;top:2170.75px;font-size:18.60px;letter-spacing:-0.350px;transform:scaleX(0.9432);font-weight:700;">December 2022</div>
<div class="t" style="left:748.80px;top:2170.75px;font-size:18.60px;letter-spacing:-0.350px;transform:scaleX(0.9240);font-weight:700;">January 2023</div>
<div class="t" style="left:971.33px;top:2170.75px;font-size:18.60px;letter-spacing:-0.350px;transform:scaleX(0.9223);font-weight:700;">February 2023</div>
<div class="t" style="left:1206.56px;top:2170.75px;font-size:18.60px;letter-spacing:-0.350px;transform:scaleX(0.9592);font-weight:700;">March 2023</div>
<div class="t" style="left:1438.94px;top:2170.75px;font-size:18.60px;letter-spacing:-0.350px;transform:scaleX(0.9513);font-weight:700;">April 2023</div>
<div class="t" style="left:86.70px;top:2236.52px;font-size:18.17px;letter-spacing:-0.350px;transform:scaleX(0.9548);-webkit-text-stroke:0.2px #fff;">Customers</div>
<div class="t" style="left:344.39px;top:2236.83px;font-size:17.80px;-webkit-text-stroke:0.2px #fff;">8</div>
<div class="t" style="left:565.52px;top:2236.83px;font-size:17.80px;-webkit-text-stroke:0.2px #fff;">29</div>
<div class="t" style="left:796.55px;top:2236.83px;font-size:17.80px;-webkit-text-stroke:0.2px #fff;">0</div>
<div class="t" style="left:1022.63px;top:2236.83px;font-size:17.80px;-webkit-text-stroke:0.2px #fff;">0</div>
<div class="t" style="left:1248.71px;top:2236.83px;font-size:17.80px;-webkit-text-stroke:0.2px #fff;">0</div>
<div class="t" style="left:1474.79px;top:2236.83px;font-size:17.80px;-webkit-text-stroke:0.2px #fff;">0</div>
<div class="t" style="left:86.70px;top:2290.14px;font-size:18.17px;letter-spacing:-0.350px;transform:scaleX(0.9246);-webkit-text-stroke:0.2px #fff;">Repurchase Rate</div>
<div class="t" style="left:319.15px;top:2290.45px;font-size:17.80px;-webkit-text-stroke:0.2px #fff;">12.50%</div>
<div class="t" style="left:550.19px;top:2290.45px;font-size:17.80px;-webkit-text-stroke:0.2px #fff;">6.90%</div>
<div class="t" style="left:788.64px;top:2290.45px;font-size:17.80px;-webkit-text-stroke:0.2px #fff;">0%</div>
<div class="t" style="left:1014.72px;top:2290.45px;font-size:17.80px;-webkit-text-stroke:0.2px #fff;">0%</div>
<div class="t" style="left:1240.80px;top:2290.45px;font-size:17.80px;-webkit-text-stroke:0.2px #fff;">0%</div>
<div class="t" style="left:1466.88px;top:2290.45px;font-size:17.80px;-webkit-text-stroke:0.2px #fff;">0%</div>
<div class="t" style="left:86.70px;top:2343.76px;font-size:18.17px;letter-spacing:-0.350px;transform:scaleX(0.8441);-webkit-text-stroke:0.2px #fff;">LTV</div>
<div class="t" style="left:309.74px;top:2344.07px;font-size:17.80px;-webkit-text-stroke:0.2px #fff;">$8,053.00</div>
<div class="t" style="left:535.82px;top:2344.07px;font-size:17.80px;-webkit-text-stroke:0.2px #fff;">$1,175.10</div>
<div class="t" style="left:779.23px;top:2344.07px;font-size:17.80px;-webkit-text-stroke:0.2px #fff;">$0.00</div>
<div class="t" style="left:1005.31px;top:2344.07px;font-size:17.80px;-webkit-text-stroke:0.2px #fff;">$0.00</div>
<div class="t" style="left:1231.39px;top:2344.07px;font-size:17.80px;-webkit-text-stroke:0.2px #fff;">$0.00</div>
<div class="t" style="left:1457.47px;top:2344.07px;font-size:17.80px;-webkit-text-stroke:0.2px #fff;">$0.00</div>
<div class="t" style="left:86.70px;top:2397.38px;font-size:18.17px;letter-spacing:-0.350px;transform:scaleX(0.9348);-webkit-text-stroke:0.2px #fff;">CAC</div>
<div class="t" style="left:317.17px;top:2397.69px;font-size:17.80px;-webkit-text-stroke:0.2px #fff;">$562.50</div>
<div class="t" style="left:548.19px;top:2397.69px;font-size:17.80px;-webkit-text-stroke:0.2px #fff;">$18.18</div>
<div class="t" style="left:779.23px;top:2397.69px;font-size:17.80px;-webkit-text-stroke:0.2px #fff;">$0.00</div>
<div class="t" style="left:1005.31px;top:2397.69px;font-size:17.80px;-webkit-text-stroke:0.2px #fff;">$0.00</div>
<div class="t" style="left:1231.39px;top:2397.69px;font-size:17.80px;-webkit-text-stroke:0.2px #fff;">$0.00</div>
<div class="t" style="left:1457.47px;top:2397.69px;font-size:17.80px;-webkit-text-stroke:0.2px #fff;">$0.00</div>
<div class="t" style="left:86.70px;top:2451.00px;font-size:18.17px;letter-spacing:-0.350px;transform:scaleX(0.9269);-webkit-text-stroke:0.2px #fff;">LTV:CAC</div>
<div class="t" style="left:314.70px;top:2451.31px;font-size:17.80px;-webkit-text-stroke:0.2px #fff;">14.32 : 1</div>
<div class="t" style="left:540.78px;top:2451.31px;font-size:17.80px;-webkit-text-stroke:0.2px #fff;">64.64 : 1</div>
<div class="t" style="left:784.18px;top:2451.31px;font-size:17.80px;-webkit-text-stroke:0.2px #fff;">0 : 0</div>
<div class="t" style="left:1010.26px;top:2451.31px;font-size:17.80px;-webkit-text-stroke:0.2px #fff;">0 : 0</div>
<div class="t" style="left:1236.34px;top:2451.31px;font-size:17.80px;-webkit-text-stroke:0.2px #fff;">0 : 0</div>
<div class="t" style="left:1462.42px;top:2451.31px;font-size:17.80px;-webkit-text-stroke:0.2px #fff;">0 : 0</div>
<div class="b" style="left:0;top:2535px;width:614px;height:25px;background:#e9ebee;border-top-right-radius:4px;"></div>
<div class="t" style="left:6.00px;top:2541.42px;font-size:14.50px;letter-spacing:-0.052px;color:#62676d;">Waiting for analytics.tiktok.com...</div>
<div class="b" style="left:1747px;top:2465.5px;width:72px;height:72px;background:#36cc96;border-radius:50%;box-shadow:0 0 6px rgba(0,0,0,0.35);"></div>
<svg class="b" style="left:0;top:2400px" width="1827" height="160" viewBox="0 2400 1827 160"><path d="M1766.1 2492.4 L1798.7 2489 L1800.2 2508.8 L1788.8 2511.1 L1784.6 2517.4 L1779.3 2512.5 L1767.4 2512.5 Z" fill="#fff"/></svg>
</body></html>
